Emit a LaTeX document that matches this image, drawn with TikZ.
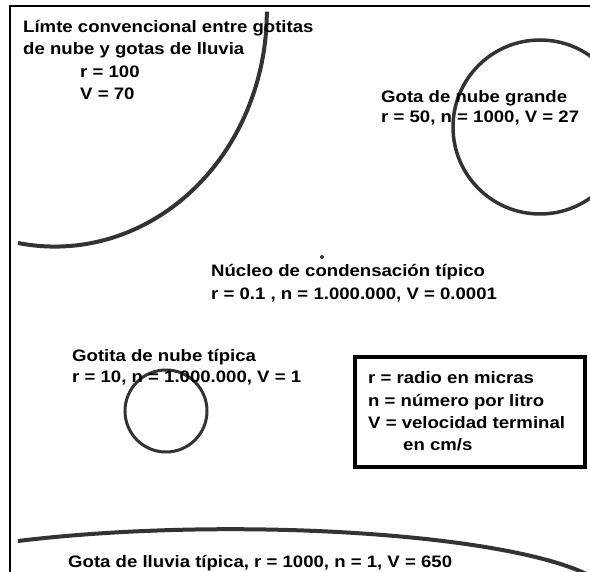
\documentclass[tikz,border=0pt]{standalone}
\usepackage{fontspec}
\newfontfamily\lab{Liberation Sans}[FakeStretch=1.12]
\definecolor{ring}{HTML}{333333}
\tikzset{
  lbl/.style={anchor=base west, inner sep=0pt, font=\lab\bfseries\fontsize{16.6}{20}\selectfont, text=black},
  drop/.style={draw=ring, line width=3.5pt},
  frameline/.style={draw=black, line width=2pt},
  keybox/.style={draw=black, line width=4pt}
}
\begin{document}
\begin{tikzpicture}[x=1pt,y=-1pt]
\useasboundingbox (0,0) rectangle (590,572);
\clip (0,0) rectangle (590,572);
\fill[white] (0,0) rectangle (590,572);
% outer frame (left and top visible)
\draw[frameline] (10,6) rectangle (620,600);
% large arc top-left (limit cloud/rain)
\draw[drop, line width=4pt] (18,243) arc[start angle=100, end angle=0, x radius=212, y radius=235];
% big cloud drop
\node[drop, circle, minimum size=174pt, inner sep=0pt] (bigdrop) at (540,127) {};
% typical droplet
\node[drop, circle, minimum size=82pt, inner sep=0pt, line width=3pt] (smalldrop) at (166,411) {};
% condensation nucleus dot
\fill[ring] (322,257) circle (2pt);
\coordinate (nucleus) at (322,257);
% rain drop arc bottom
\draw[drop, line width=4pt] (18,541) arc[start angle=-124, end angle=-10, x radius=380, y radius=69];
% legend box
\node[keybox, minimum width=230pt, minimum height=110pt, inner sep=0pt] (legend) at (470,412) {};
% texts
\node[lbl] (t1) at (23,33) {Límte convencional entre gotitas};
\node[lbl] (t2) at (23,55) {de nube y gotas de lluvia};
\node[lbl] (t3) at (80,78) {r = 100};
\node[lbl] (t4) at (80,100) {V = 70};
\node[lbl] (g1) at (381,103) {Gota de nube grande};
\node[lbl] (g2) at (381,123) {r = 50, n = 1000, V = 27};
\node[lbl] (n1) at (211,277) {Núcleo de condensación típico};
\node[lbl] (n2) at (211,300) {r = 0.1 , n = 1.000.000, V = 0.0001};
\node[lbl] (s1) at (72,362) {Gotita de nube típica};
\node[lbl] (s2) at (72,383) {r = 10, n = 1.000.000, V = 1};
\node[lbl] (l1) at (368,384) {r = radio en micras};
\node[lbl] (l2) at (368,407) {n = número por litro};
\node[lbl] (l3) at (368,429) {V = velocidad terminal};
\node[lbl] (l4) at (403,451) {en cm/s};
\node[lbl] (r1) at (68,567) {Gota de lluvia típica, r = 1000, n = 1, V = 650};
\end{tikzpicture}
\end{document}
